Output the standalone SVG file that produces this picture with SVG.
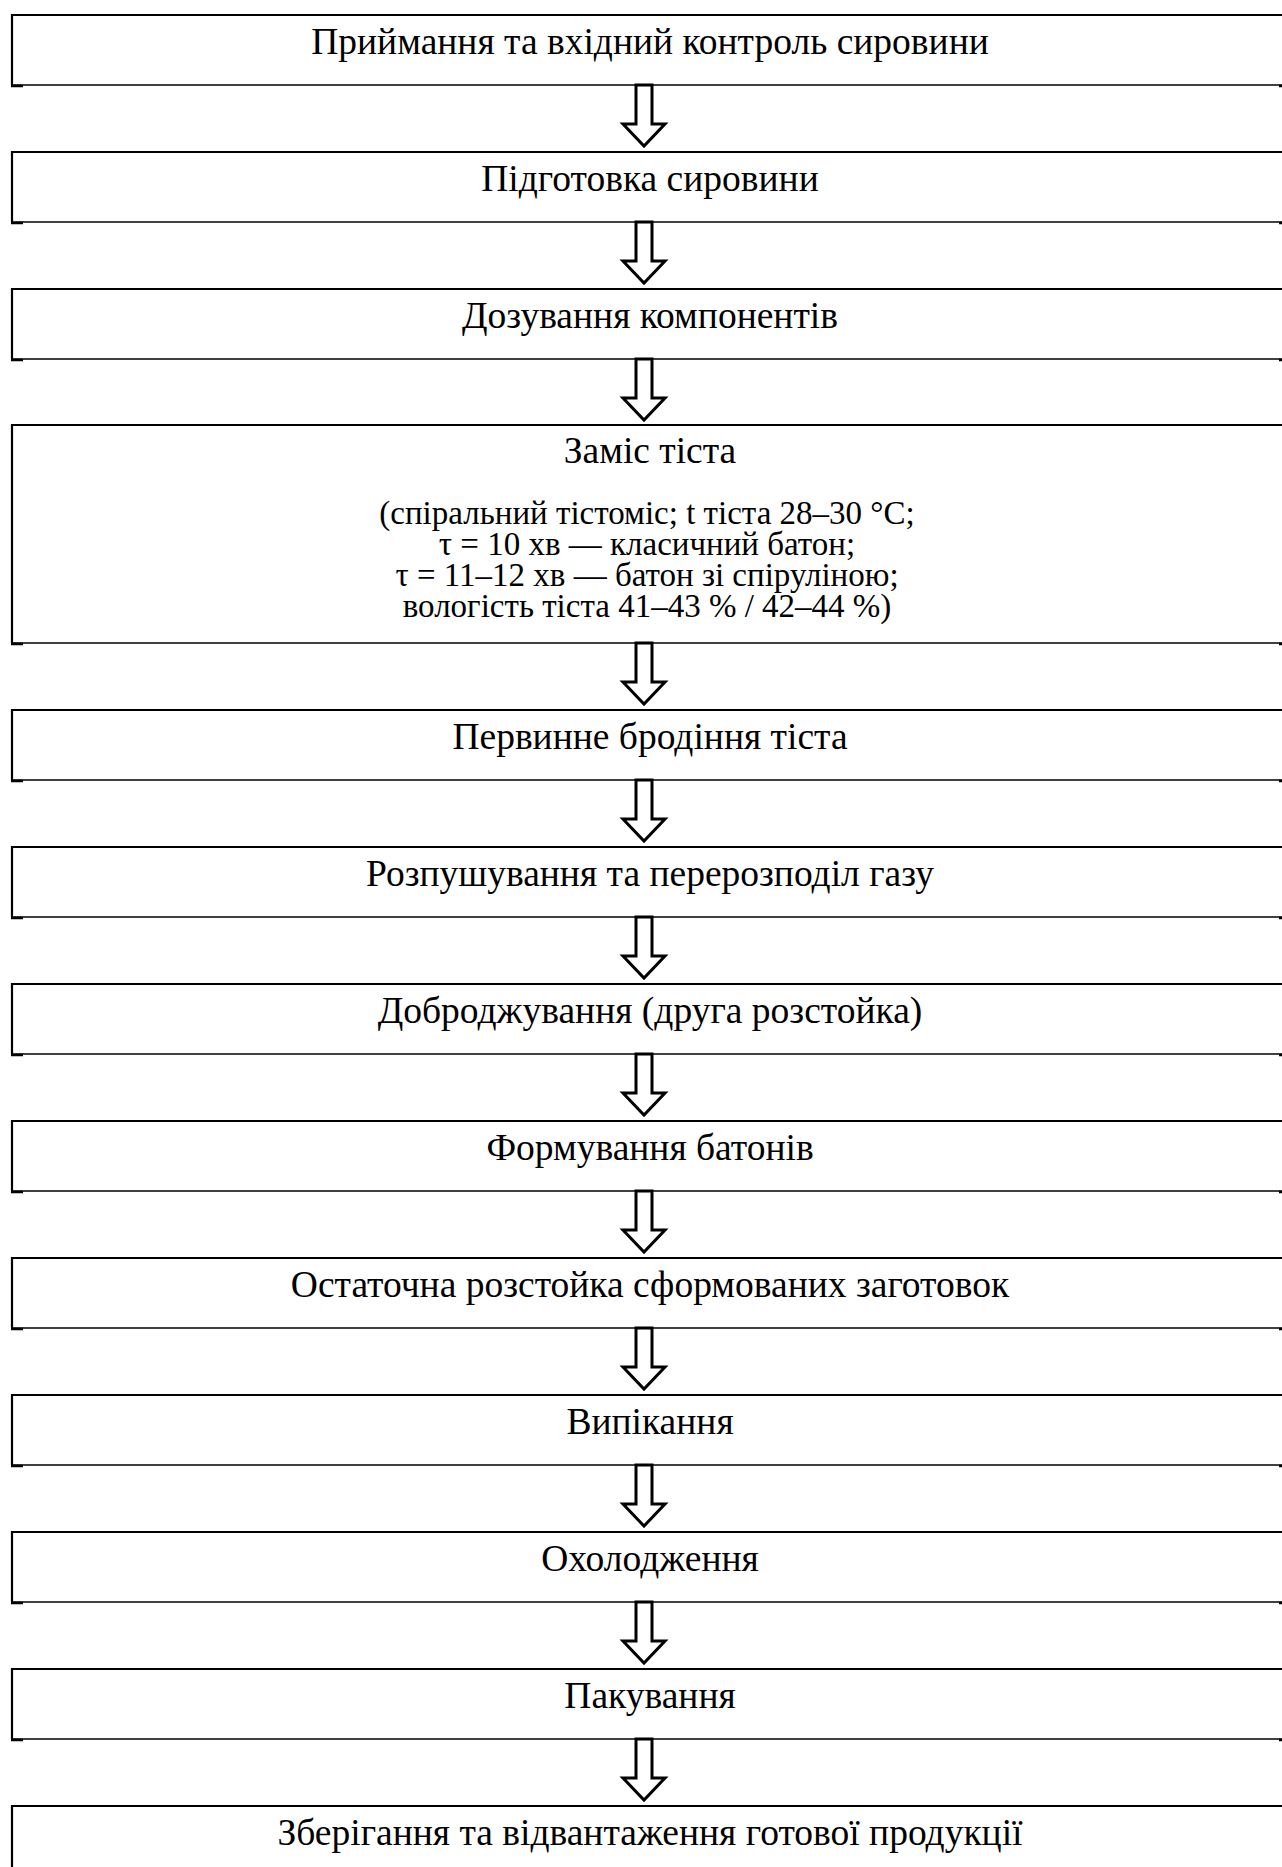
<svg xmlns="http://www.w3.org/2000/svg" width="1282" height="1867" viewBox="0 0 1282 1867">
<style>
.top{fill:none;stroke:#000;stroke-width:2.2}
.bot{fill:none;stroke:#000;stroke-width:1.3}
.tick{fill:none;stroke:#000;stroke-width:2.4}
.t{font-family:"Liberation Serif","Times New Roman",serif;font-size:37.5px;fill:#000;text-anchor:middle}
.s{font-family:"Liberation Serif","Times New Roman",serif;font-size:33px;fill:#000;text-anchor:middle}
.arr{fill:#fff;stroke:#000;stroke-width:3;stroke-linejoin:miter}
</style>
<defs>
<polygon id="arrow" class="arr" points="636,0 652,0 652,39 665,39 644,61 623,39 636,39"/>
</defs>
<rect x="0" y="0" width="1282" height="1867" fill="#fff"/>

<g id="n1"><path class="top" d="M12,85V15H1292"/><path class="bot" d="M12,85H1292"/><path class="tick" d="M11,86H23M1279,86H1282"/><text class="t" x="650" y="54">Приймання та вхідний контроль сировини</text></g>
<g id="n2"><path class="top" d="M12,222V152H1292"/><path class="bot" d="M12,222H1292"/><path class="tick" d="M11,223H23M1279,223H1282"/><text class="t" x="650" y="191">Підготовка сировини</text></g>
<g id="n3"><path class="top" d="M12,359V289H1292"/><path class="bot" d="M12,359H1292"/><path class="tick" d="M11,360H23M1279,360H1282"/><text class="t" x="650" y="328">Дозування компонентів</text></g>
<g id="n4"><path class="top" d="M12,643V425H1292"/><path class="bot" d="M12,643H1292"/><path class="tick" d="M11,644H23M1279,644H1282"/><text class="t" x="650" y="463">Заміс тіста</text>
<text class="s" x="647" y="524">(спіральний тістоміс; t тіста 28–30 °C;</text>
<text class="s" x="647" y="555">τ = 10 хв — класичний батон;</text>
<text class="s" x="647" y="586">τ = 11–12 хв — батон зі спіруліною;</text>
<text class="s" x="647" y="617">вологість тіста 41–43 % / 42–44 %)</text></g>
<g id="n5"><path class="top" d="M12,780V710H1292"/><path class="bot" d="M12,780H1292"/><path class="tick" d="M11,781H23M1279,781H1282"/><text class="t" x="650" y="749">Первинне бродіння тіста</text></g>
<g id="n6"><path class="top" d="M12,917V847H1292"/><path class="bot" d="M12,917H1292"/><path class="tick" d="M11,918H23M1279,918H1282"/><text class="t" x="650" y="886">Розпушування та перерозподіл газу</text></g>
<g id="n7"><path class="top" d="M12,1054V984H1292"/><path class="bot" d="M12,1054H1292"/><path class="tick" d="M11,1055H23M1279,1055H1282"/><text class="t" x="650" y="1023">Доброджування (друга розстойка)</text></g>
<g id="n8"><path class="top" d="M12,1191V1121H1292"/><path class="bot" d="M12,1191H1292"/><path class="tick" d="M11,1192H23M1279,1192H1282"/><text class="t" x="650" y="1160">Формування батонів</text></g>
<g id="n9"><path class="top" d="M12,1328V1258H1292"/><path class="bot" d="M12,1328H1292"/><path class="tick" d="M11,1329H23M1279,1329H1282"/><text class="t" x="650" y="1297">Остаточна розстойка сформованих заготовок</text></g>
<g id="n10"><path class="top" d="M12,1465V1395H1292"/><path class="bot" d="M12,1465H1292"/><path class="tick" d="M11,1466H23M1279,1466H1282"/><text class="t" x="650" y="1434">Випікання</text></g>
<g id="n11"><path class="top" d="M12,1602V1532H1292"/><path class="bot" d="M12,1602H1292"/><path class="tick" d="M11,1603H23M1279,1603H1282"/><text class="t" x="650" y="1571">Охолодження</text></g>
<g id="n12"><path class="top" d="M12,1739V1669H1292"/><path class="bot" d="M12,1739H1292"/><path class="tick" d="M11,1740H23M1279,1740H1282"/><text class="t" x="650" y="1708">Пакування</text></g>
<g id="n13"><path class="top" d="M12,1880V1806H1292"/><text class="t" x="650" y="1845">Зберігання та відвантаження готової продукції</text></g>

<g id="connectors">
<use href="#arrow" y="85"/>
<use href="#arrow" y="222"/>
<use href="#arrow" y="359"/>
<use href="#arrow" y="643"/>
<use href="#arrow" y="780"/>
<use href="#arrow" y="917"/>
<use href="#arrow" y="1054"/>
<use href="#arrow" y="1191"/>
<use href="#arrow" y="1328"/>
<use href="#arrow" y="1465"/>
<use href="#arrow" y="1602"/>
<use href="#arrow" y="1739"/>
</g>
</svg>
